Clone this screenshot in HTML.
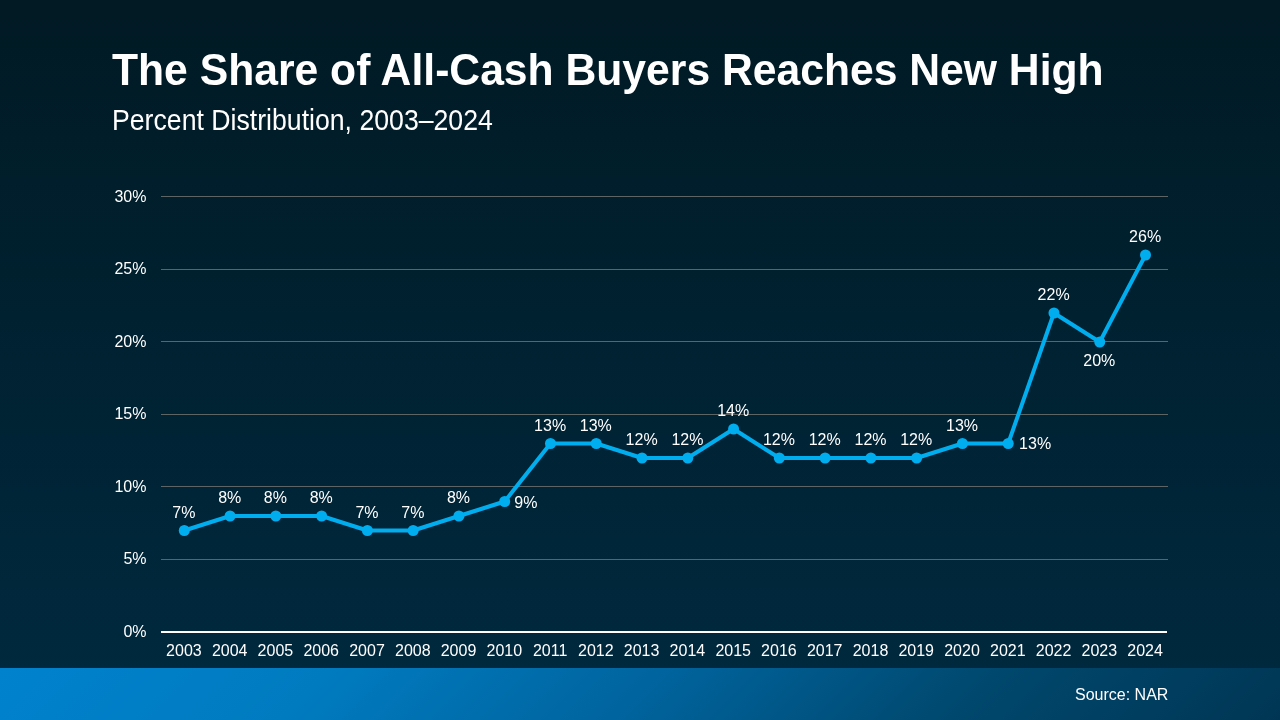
<!DOCTYPE html>
<html><head><meta charset="utf-8"><style>
html,body{margin:0;padding:0;}
body{width:1280px;height:720px;position:relative;overflow:hidden;
background:linear-gradient(180deg,#011a24 0%,#002a40 100%);
font-family:"Liberation Sans",sans-serif;color:#fff;}
.title{position:absolute;left:112px;top:47.5px;transform:scaleY(1.03);transform-origin:0 0;font-size:42.67px;font-weight:bold;white-space:nowrap;line-height:1;will-change:transform;}
.sub{position:absolute;left:112px;top:104.7px;transform:scaleY(1.12);transform-origin:0 0;font-size:26.67px;white-space:nowrap;line-height:1;will-change:transform;}
.band{position:absolute;left:0;top:668px;width:1280px;height:52px;
background:linear-gradient(135deg,#0082cd 0%,#007bc0 25%,#00649e 50%,#00486e 75%,#003654 100%);}
.src{position:absolute;left:1075px;top:687px;font-size:16px;white-space:nowrap;line-height:1;will-change:transform;}
svg{position:absolute;left:0;top:0;will-change:transform;}
.t{font-family:"Liberation Sans",sans-serif;font-size:16px;fill:#fff;}
</style></head><body>
<div class="title">The Share of All-Cash Buyers Reaches New High</div>
<div class="sub">Percent Distribution, 2003–2024</div>
<svg width="1280" height="720" viewBox="0 0 1280 720">
<line x1="161" y1="559.5" x2="1168" y2="559.5" stroke="#5e6464" stroke-width="1"/>
<line x1="161" y1="486.5" x2="1168" y2="486.5" stroke="#5e6464" stroke-width="1"/>
<line x1="161" y1="414.5" x2="1168" y2="414.5" stroke="#5e6464" stroke-width="1"/>
<line x1="161" y1="341.5" x2="1168" y2="341.5" stroke="#5e6464" stroke-width="1"/>
<line x1="161" y1="269.5" x2="1168" y2="269.5" stroke="#5e6464" stroke-width="1"/>
<line x1="161" y1="196.5" x2="1168" y2="196.5" stroke="#5e6464" stroke-width="1"/>
<rect x="161" y="631" width="1006" height="2" fill="#ffffff"/>
<text x="146.5" y="636.5" text-anchor="end" class="t">0%</text>
<text x="146.5" y="564.0" text-anchor="end" class="t">5%</text>
<text x="146.5" y="491.5" text-anchor="end" class="t">10%</text>
<text x="146.5" y="419.0" text-anchor="end" class="t">15%</text>
<text x="146.5" y="346.5" text-anchor="end" class="t">20%</text>
<text x="146.5" y="274.0" text-anchor="end" class="t">25%</text>
<text x="146.5" y="201.5" text-anchor="end" class="t">30%</text>
<text x="183.9" y="656" text-anchor="middle" class="t">2003</text>
<text x="229.7" y="656" text-anchor="middle" class="t">2004</text>
<text x="275.4" y="656" text-anchor="middle" class="t">2005</text>
<text x="321.2" y="656" text-anchor="middle" class="t">2006</text>
<text x="367.0" y="656" text-anchor="middle" class="t">2007</text>
<text x="412.8" y="656" text-anchor="middle" class="t">2008</text>
<text x="458.5" y="656" text-anchor="middle" class="t">2009</text>
<text x="504.3" y="656" text-anchor="middle" class="t">2010</text>
<text x="550.1" y="656" text-anchor="middle" class="t">2011</text>
<text x="595.8" y="656" text-anchor="middle" class="t">2012</text>
<text x="641.6" y="656" text-anchor="middle" class="t">2013</text>
<text x="687.4" y="656" text-anchor="middle" class="t">2014</text>
<text x="733.2" y="656" text-anchor="middle" class="t">2015</text>
<text x="778.9" y="656" text-anchor="middle" class="t">2016</text>
<text x="824.7" y="656" text-anchor="middle" class="t">2017</text>
<text x="870.5" y="656" text-anchor="middle" class="t">2018</text>
<text x="916.2" y="656" text-anchor="middle" class="t">2019</text>
<text x="962.0" y="656" text-anchor="middle" class="t">2020</text>
<text x="1007.8" y="656" text-anchor="middle" class="t">2021</text>
<text x="1053.6" y="656" text-anchor="middle" class="t">2022</text>
<text x="1099.3" y="656" text-anchor="middle" class="t">2023</text>
<text x="1145.1" y="656" text-anchor="middle" class="t">2024</text>
<polyline points="184.29,530.50 230.06,516.00 275.83,516.00 321.60,516.00 367.38,530.50 413.15,530.50 458.92,516.00 504.70,501.50 550.47,443.50 596.24,443.50 642.01,458.00 687.79,458.00 733.56,429.00 779.33,458.00 825.10,458.00 870.88,458.00 916.65,458.00 962.42,443.50 1008.20,443.50 1053.97,313.00 1099.74,342.00 1145.51,255.00" fill="none" stroke="#00aeef" stroke-width="4" stroke-linejoin="round"/>
<circle cx="184.29" cy="530.50" r="5.5" fill="#00aeef"/>
<circle cx="230.06" cy="516.00" r="5.5" fill="#00aeef"/>
<circle cx="275.83" cy="516.00" r="5.5" fill="#00aeef"/>
<circle cx="321.60" cy="516.00" r="5.5" fill="#00aeef"/>
<circle cx="367.38" cy="530.50" r="5.5" fill="#00aeef"/>
<circle cx="413.15" cy="530.50" r="5.5" fill="#00aeef"/>
<circle cx="458.92" cy="516.00" r="5.5" fill="#00aeef"/>
<circle cx="504.70" cy="501.50" r="5.5" fill="#00aeef"/>
<circle cx="550.47" cy="443.50" r="5.5" fill="#00aeef"/>
<circle cx="596.24" cy="443.50" r="5.5" fill="#00aeef"/>
<circle cx="642.01" cy="458.00" r="5.5" fill="#00aeef"/>
<circle cx="687.79" cy="458.00" r="5.5" fill="#00aeef"/>
<circle cx="733.56" cy="429.00" r="5.5" fill="#00aeef"/>
<circle cx="779.33" cy="458.00" r="5.5" fill="#00aeef"/>
<circle cx="825.10" cy="458.00" r="5.5" fill="#00aeef"/>
<circle cx="870.88" cy="458.00" r="5.5" fill="#00aeef"/>
<circle cx="916.65" cy="458.00" r="5.5" fill="#00aeef"/>
<circle cx="962.42" cy="443.50" r="5.5" fill="#00aeef"/>
<circle cx="1008.20" cy="443.50" r="5.5" fill="#00aeef"/>
<circle cx="1053.97" cy="313.00" r="5.5" fill="#00aeef"/>
<circle cx="1099.74" cy="342.00" r="5.5" fill="#00aeef"/>
<circle cx="1145.51" cy="255.00" r="5.5" fill="#00aeef"/>
<text x="183.9" y="517.7" text-anchor="middle" class="t">7%</text>
<text x="229.7" y="503.2" text-anchor="middle" class="t">8%</text>
<text x="275.4" y="503.2" text-anchor="middle" class="t">8%</text>
<text x="321.2" y="503.2" text-anchor="middle" class="t">8%</text>
<text x="367.0" y="517.7" text-anchor="middle" class="t">7%</text>
<text x="412.8" y="517.7" text-anchor="middle" class="t">7%</text>
<text x="458.5" y="503.2" text-anchor="middle" class="t">8%</text>
<text x="514.3" y="507.5" class="t">9%</text>
<text x="550.1" y="430.7" text-anchor="middle" class="t">13%</text>
<text x="595.8" y="430.7" text-anchor="middle" class="t">13%</text>
<text x="641.6" y="445.2" text-anchor="middle" class="t">12%</text>
<text x="687.4" y="445.2" text-anchor="middle" class="t">12%</text>
<text x="733.2" y="416.2" text-anchor="middle" class="t">14%</text>
<text x="778.9" y="445.2" text-anchor="middle" class="t">12%</text>
<text x="824.7" y="445.2" text-anchor="middle" class="t">12%</text>
<text x="870.5" y="445.2" text-anchor="middle" class="t">12%</text>
<text x="916.2" y="445.2" text-anchor="middle" class="t">12%</text>
<text x="962.0" y="430.7" text-anchor="middle" class="t">13%</text>
<text x="1019.1" y="448.5" class="t">13%</text>
<text x="1053.6" y="300.2" text-anchor="middle" class="t">22%</text>
<text x="1099.3" y="366.0" text-anchor="middle" class="t">20%</text>
<text x="1145.1" y="242.2" text-anchor="middle" class="t">26%</text>
</svg>
<div class="band"></div>
<div class="src">Source: NAR</div>
</body></html>
